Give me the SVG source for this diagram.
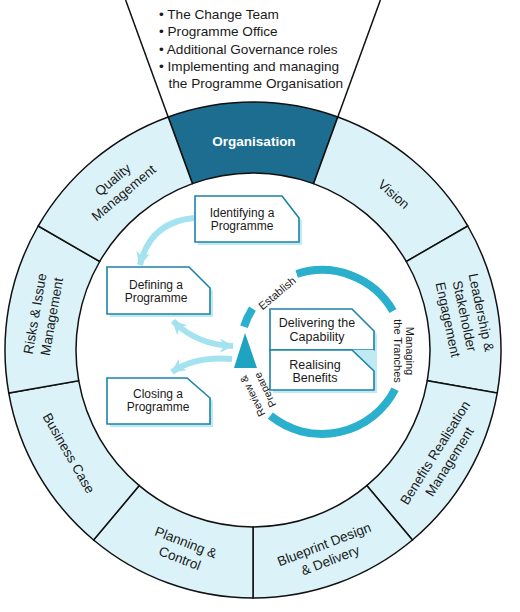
<svg xmlns="http://www.w3.org/2000/svg" width="520" height="612" viewBox="0 0 520 612">
<style>
text{font-family:"Liberation Sans",Arial,sans-serif;fill:#1a1a1a}
.seg{fill:#dbf3f8;stroke:#111;stroke-width:1.5}
.lbl{font-size:13.5px;text-anchor:middle}
.top{font-size:13.6px}
.box{fill:#fff;stroke:#1b82a8;stroke-width:1.6}
.shd{fill:#bfe9f3}
.bt{font-size:12px;text-anchor:middle}
.cyc{fill:none;stroke:#2aafcc;stroke-width:8}
.ct{font-size:11px;text-anchor:middle}
.arr{fill:none;stroke:#a3e2ef;stroke-width:6}
</style>
<defs>
<marker id="ah" markerUnits="userSpaceOnUse" markerWidth="16" markerHeight="16" viewBox="0 0 16 16" refX="13" refY="8" orient="auto-start-reverse">
<path d="M0,1 L14,8 L0,15 L4,8 Z" fill="#a3e2ef"/>
</marker>
</defs>
<rect width="520" height="612" fill="#fff"/>

<g id="governance-notes">
<text class="top" x="159" y="19">• The Change Team</text>
<text class="top" x="159" y="36.2">• Programme Office</text>
<text class="top" x="159" y="53.5">• Additional Governance roles</text>
<text class="top" x="159" y="70.8">• Implementing and managing</text>
<text class="top" x="168.5" y="88">the Programme Organisation</text>
</g>

<g id="organisation">
<path d="M168.18 116.96 A248 248 0 0 1 337.82 116.96 L313.54 183.67 A177 177 0 0 0 192.46 183.67 Z" fill="#1c6d8f" stroke="#111" stroke-width="1.5"/>
<text x="254" y="145.5" text-anchor="middle" font-size="13.5" font-weight="bold" style="fill:#fff">Organisation</text>
</g>
<g id="vision">
<path class="seg" d="M337.82 116.96 A248 248 0 0 1 467.78 226 L406.29 261.5 A177 177 0 0 0 313.54 183.67 Z"/>
<text class="lbl" transform="translate(394,194) rotate(41)" y="5">Vision</text>
</g>
<g id="leadership">
<path class="seg" d="M467.78 226 A248 248 0 0 1 497.23 393.07 L427.31 380.74 A177 177 0 0 0 406.29 261.5 Z"/>
<g transform="translate(465,316) rotate(78)">
<text class="lbl" y="-12">Leadership &amp;</text>
<text class="lbl" y="5">Stakeholder</text>
<text class="lbl" y="22">Engagement</text>
</g>
</g>
<g id="benefits">
<path class="seg" d="M497.23 393.07 A248 248 0 0 1 412.41 539.98 L366.77 485.59 A177 177 0 0 0 427.31 380.74 Z"/>
<g transform="translate(442,457) rotate(-58)">
<text class="lbl" y="-3.5">Benefits Realisation</text>
<text class="lbl" y="13.5">Management</text>
</g>
</g>
<g id="blueprint">
<path class="seg" d="M412.41 539.98 A248 248 0 0 1 253 598 L253 527 A177 177 0 0 0 366.77 485.59 Z"/>
<g transform="translate(327,552) rotate(-21)">
<text class="lbl" y="-3.5">Blueprint Design</text>
<text class="lbl" y="13.5">&amp; Delivery</text>
</g>
</g>
<g id="planning">
<path class="seg" d="M253 598 A248 248 0 0 1 93.59 539.98 L139.23 485.59 A177 177 0 0 0 253 527 Z"/>
<g transform="translate(183,550) rotate(21)">
<text class="lbl" y="-3.5">Planning &amp;</text>
<text class="lbl" y="13.5">Control</text>
</g>
</g>
<g id="business-case">
<path class="seg" d="M93.59 539.98 A248 248 0 0 1 8.77 393.07 L78.69 380.74 A177 177 0 0 0 139.23 485.59 Z"/>
<text class="lbl" transform="translate(69,453) rotate(60)" y="5">Business Case</text>
</g>
<g id="risks">
<path class="seg" d="M8.77 393.07 A248 248 0 0 1 38.22 226 L99.71 261.5 A177 177 0 0 0 78.69 380.74 Z"/>
<g transform="translate(43,315) rotate(-80)">
<text class="lbl" y="-3.5">Risks &amp; Issue</text>
<text class="lbl" y="13.5">Management</text>
</g>
</g>
<g id="quality">
<path class="seg" d="M38.22 226 A248 248 0 0 1 168.18 116.96 L192.46 183.67 A177 177 0 0 0 99.71 261.5 Z"/>
<g transform="translate(118,186) rotate(-40)">
<text class="lbl" y="-3.5">Quality</text>
<text class="lbl" y="13.5">Management</text>
</g>
</g>
<g id="wedge-lines" stroke="#111" stroke-width="1.5">
<line x1="168.18" y1="116.96" x2="125.6" y2="0"/>
<line x1="337.82" y1="116.96" x2="380.4" y2="0"/>
</g>

<g id="identifying">
<polygon class="shd" points="198,199 285,199 302,221 302,245 198,245"/>
<polygon class="box" points="195,196 282,196 299,218 299,242 195,242"/>
<text class="bt" x="242" y="216.5">Identifying a</text>
<text class="bt" x="242" y="230">Programme</text>
</g>
<g id="defining">
<polygon class="shd" points="110,270 192,270 213,291 213,317 110,317"/>
<polygon class="box" points="107,267 189,267 210,288 210,314 107,314"/>
<text class="bt" x="156" y="288.5">Defining a</text>
<text class="bt" x="156" y="301.5">Programme</text>
</g>
<g id="closing">
<polygon class="shd" points="110,381 190,381 213,401 213,427 110,427"/>
<polygon class="box" points="107,378 187,378 210,398 210,424 107,424"/>
<text class="bt" x="158" y="397.5">Closing a</text>
<text class="bt" x="158" y="411">Programme</text>
</g>

<g id="cycle">
<path class="cyc" d="M244.01 326.66 A82 82 0 0 1 252.46 308.55"/>
<path class="cyc" d="M296.66 274.01 A82 82 0 0 1 393.01 311"/>
<path class="cyc" d="M395.06 389.23 A82 82 0 0 1 270.4 415.73"/>
<polygon points="245,333 234,368 257,368" fill="#1ea3c0"/>
<text class="ct" transform="translate(277,293) rotate(-40)" y="4">Establish</text>
<g transform="translate(404,351) rotate(90)">
<text class="ct" y="-2">Managing</text>
<text class="ct" y="10">the Tranches</text>
</g>
<g transform="translate(258.7,393) rotate(-116)" font-size="10.5">
<text class="ct" style="font-size:10.5px" y="-3.3">Review &amp;</text>
<text class="ct" style="font-size:10.5px" y="10.7">Prepare</text>
</g>
</g>

<g id="delivering">
<polygon class="shd" points="273,312 355,312 377,334 377,393 273,393"/>
<polygon class="box" points="270,309 352,309 374,331 374,350 270,350"/>
<text class="bt" style="font-size:12.5px" x="317" y="327.3">Delivering the</text>
<text class="bt" style="font-size:12.5px" x="317" y="340.7">Capability</text>
</g>
<g id="realising">
<polygon points="352,350 374,350 374,371" fill="#bfe9f3"/>
<polygon class="box" points="270,350 352,350 374,371 374,390 270,390"/>
<text class="bt" style="font-size:12.5px" x="315" y="369">Realising</text>
<text class="bt" style="font-size:12.5px" x="315" y="382">Benefits</text>
</g>

<g id="connectors">
<path class="arr" d="M194 218 Q150 222 140 265" marker-end="url(#ah)"/>
<path class="arr" d="M173 321 Q197 345 233 346" marker-start="url(#ah)" marker-end="url(#ah)"/>
<path class="arr" d="M232 359 Q195 356 172 372" marker-end="url(#ah)"/>
</g>
</svg>
